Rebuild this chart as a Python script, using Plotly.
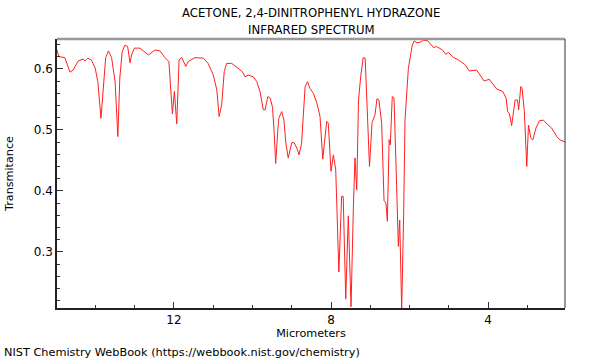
import plotly.graph_objects as go

# Wavelength (micrometers) and transmittance
wavelength_um = [
    14.98, 14.93, 14.78, 14.65, 14.57, 14.44, 14.31, 14.27, 14.20, 14.11,
    14.01, 13.94, 13.86, 13.80, 13.74, 13.67, 13.59, 13.50, 13.43, 13.38,
    13.32, 13.25, 13.18, 13.12, 13.08, 13.01, 12.87, 12.78, 12.65, 12.48,
    12.36, 12.23, 12.13, 12.04, 11.99, 11.93, 11.87, 11.80, 11.70, 11.64,
    11.465, 11.25, 11.13, 11.00, 10.91, 10.85, 10.785, 10.72, 10.66, 10.53,
    10.40, 10.26, 10.19, 10.11, 9.98, 9.89, 9.81, 9.725, 9.68, 9.61,
    9.55, 9.49, 9.445, 9.41, 9.355, 9.33, 9.256, 9.20, 9.15, 9.09,
    9.00, 8.94, 8.87, 8.815, 8.75, 8.66, 8.60, 8.535, 8.45, 8.36,
    8.28, 8.21, 8.17, 8.11, 8.07, 8.00, 7.94, 7.88, 7.80, 7.73,
    7.69, 7.625, 7.56, 7.49, 7.43, 7.39, 7.345, 7.30, 7.24, 7.18,
    7.13, 7.09, 7.02, 6.955, 6.88, 6.83, 6.78, 6.71, 6.65, 6.60,
    6.565, 6.52, 6.49, 6.44, 6.395, 6.33, 6.285, 6.25, 6.20, 6.15,
    6.115, 6.03, 5.93, 5.88, 5.81, 5.73, 5.65, 5.536, 5.465, 5.39,
    5.31, 5.16, 5.08, 5.01, 4.88, 4.76, 4.60, 4.48, 4.29, 4.20,
    4.10, 3.97, 3.865, 3.78, 3.625, 3.54, 3.50, 3.457, 3.40, 3.355,
    3.31, 3.25, 3.22, 3.167, 3.134, 3.075, 3.04, 3.014, 2.97, 2.91,
    2.86, 2.78, 2.69, 2.59, 2.49, 2.38, 2.25, 2.166, 2.03,
]
transmittance = [
    0.631, 0.620, 0.6185, 0.5946, 0.598, 0.613, 0.616, 0.613, 0.6175, 0.615,
    0.602, 0.579, 0.519, 0.563, 0.6185, 0.6295, 0.6185, 0.579, 0.489, 0.585,
    0.628, 0.639, 0.6366, 0.610, 0.623, 0.634, 0.634, 0.6295, 0.623, 0.631,
    0.6295, 0.6185, 0.612, 0.526, 0.563, 0.510, 0.615, 0.6185, 0.604, 0.612,
    0.6185, 0.6175, 0.609, 0.590, 0.566, 0.522, 0.541, 0.5956, 0.609, 0.609,
    0.602, 0.5956, 0.587, 0.590, 0.587, 0.579, 0.563, 0.533, 0.533, 0.5546,
    0.552, 0.537, 0.492, 0.445, 0.500, 0.519, 0.530, 0.516, 0.478, 0.454,
    0.479, 0.479, 0.470, 0.459, 0.478, 0.571, 0.579, 0.568, 0.560, 0.544,
    0.522, 0.452, 0.478, 0.514, 0.511, 0.432, 0.459, 0.4344, 0.267, 0.391,
    0.391, 0.2225, 0.359, 0.210, 0.374, 0.454, 0.402, 0.549, 0.590, 0.6185,
    0.6175, 0.549, 0.440, 0.512, 0.5246, 0.551, 0.549, 0.511, 0.384, 0.380,
    0.350, 0.484, 0.4754, 0.5546, 0.552, 0.410, 0.309, 0.352, 0.205, 0.361,
    0.516, 0.601, 0.639, 0.646, 0.6426, 0.6438, 0.647, 0.646, 0.641, 0.635,
    0.6366, 0.631, 0.624, 0.627, 0.6185, 0.615, 0.6077, 0.5967, 0.598, 0.589,
    0.580, 0.583, 0.574, 0.567, 0.563, 0.552, 0.530, 0.527, 0.507, 0.5246,
    0.549, 0.549, 0.533, 0.571, 0.568, 0.530, 0.4864, 0.440, 0.508, 0.4864,
    0.4836, 0.503, 0.515, 0.516, 0.509, 0.503, 0.489, 0.4836, 0.480,
]

x_range = [14.98, 2.04]
y_range = [0.208, 0.649]
x_ticks = [12, 8, 4]
y_ticks = [0.3, 0.4, 0.5, 0.6]

title_lines = ["ACETONE, 2,4-DINITROPHENYL HYDRAZONE", "INFRARED SPECTRUM"]
footer = "NIST Chemistry WebBook (https://webbook.nist.gov/chemistry)"

FONT = "DejaVu Sans"

fig = go.Figure()
fig.add_trace(go.Scatter(
    x=wavelength_um, y=transmittance, mode="lines",
    line=dict(color="#ff2020", width=1),
    hoverinfo="skip", showlegend=False,
))

fig.update_layout(
    width=600, height=360,
    margin=dict(l=57, r=35, t=39, b=52, autoexpand=False),
    paper_bgcolor="white", plot_bgcolor="white",
    font=dict(family=FONT, size=12, color="black"),
    xaxis=dict(
        range=x_range, autorange=False,
        tickvals=x_ticks, ticktext=[str(v) for v in x_ticks],
        ticks="inside", ticklen=6, tickcolor="#333", tickwidth=1,
        minor=dict(dtick=1, ticks="inside", ticklen=3, tickcolor="#333", showgrid=False),
        showgrid=False, zeroline=False,
        showline=True, linecolor="#222", linewidth=1.5,
        title=dict(text="Micrometers", standoff=3, font=dict(family=FONT, size=11.2)),
        tickfont=dict(family=FONT, size=12),
        automargin=False,
    ),
    yaxis=dict(
        range=y_range, autorange=False,
        tickvals=y_ticks, ticktext=["0.3", "0.4", "0.5", "0.6"],
        ticks="inside", ticklen=6, tickcolor="#333", tickwidth=1,
        minor=dict(dtick=0.02, tick0=0, ticks="inside", ticklen=3, tickcolor="#333", showgrid=False),
        showgrid=False, zeroline=False,
        showline=True, linecolor="#222", linewidth=1.5,
        title=dict(text="Transmitance", standoff=18, font=dict(family=FONT, size=11.2)),
        tickfont=dict(family=FONT, size=12),
        automargin=False,
    ),
    shapes=[
        dict(type="line", xref="paper", yref="paper", x0=0, x1=1, y0=1, y1=1,
             line=dict(color="#999999", width=2.5)),
        dict(type="line", xref="paper", yref="paper", x0=1, x1=1, y0=0, y1=1,
             line=dict(color="#333333", width=1)),
    ],
    annotations=[
        dict(text=title_lines[0], xref="paper", yref="paper", x=0.5, y=(308 - 13) / 269,
             xanchor="center", yanchor="middle", showarrow=False,
             font=dict(family=FONT, size=11.7, color="black")),
        dict(text=title_lines[1], xref="paper", yref="paper", x=0.5, y=(308 - 30) / 269,
             xanchor="center", yanchor="middle", showarrow=False,
             font=dict(family=FONT, size=11.7, color="black")),
        dict(text=footer, xref="paper", yref="paper", x=-57 / 508, y=(308 - 352) / 269,
             xanchor="left", yanchor="middle", xshift=2, showarrow=False,
             font=dict(family=FONT, size=11.3, color="black")),
    ],
)

fig.write_html("out.html", config={"displayModeBar": False},
               post_script="document.body.style.margin='0';")
